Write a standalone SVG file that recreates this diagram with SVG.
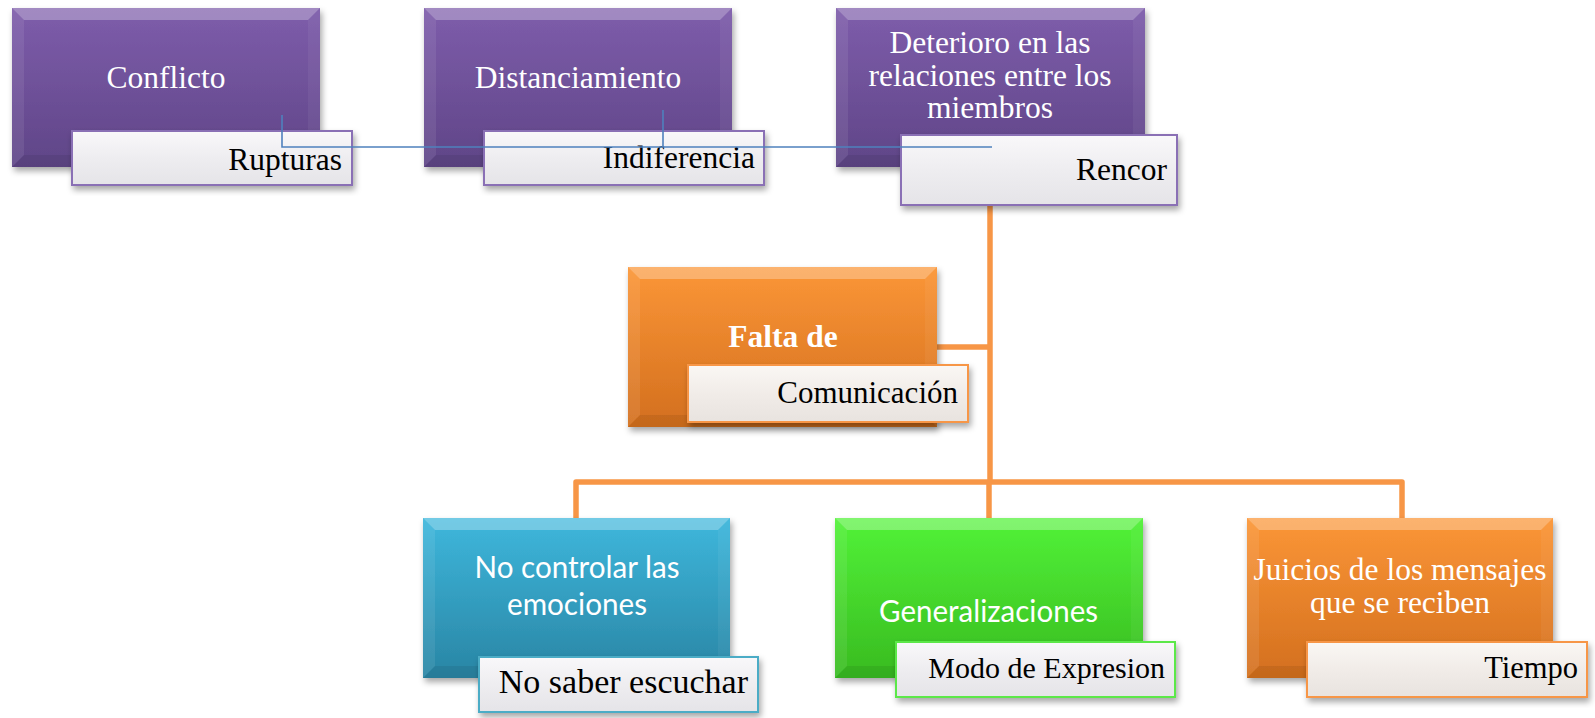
<svg xmlns="http://www.w3.org/2000/svg" width="1595" height="718" viewBox="0 0 1595 718">
<defs>
<style>
.ms{font-family:"Liberation Serif","Times New Roman",serif;font-size:31.5px;fill:#ffffff;text-anchor:middle}
.msb{font-family:"Liberation Serif","Times New Roman",serif;font-size:31.5px;font-weight:bold;fill:#ffffff;text-anchor:middle}
.sans{font-family:Lato,"Liberation Sans",sans-serif;font-size:31px;fill:#ffffff;text-anchor:middle}
.sub{font-family:"Liberation Serif","Times New Roman",serif;font-size:31.5px;fill:#000000;text-anchor:end}
.bt{fill:#ffffff;fill-opacity:0.28}
.bl{fill:#ffffff;fill-opacity:0.08}
.br{fill:#ffffff;fill-opacity:0.05}
.bb{fill:#000000;fill-opacity:0.07}
.conO{fill:none;stroke:#F79646;stroke-width:5.5;stroke-linejoin:round}
.conB{fill:none;stroke:#4F81BD;stroke-width:1.6}
</style>
<linearGradient id="gP" x1="0" y1="0" x2="0" y2="1"><stop offset="0" stop-color="#7E5DAB"/><stop offset="1" stop-color="#5F4587"/></linearGradient>
<linearGradient id="gO" x1="0" y1="0" x2="0" y2="1"><stop offset="0" stop-color="#FB9637"/><stop offset="1" stop-color="#D36F1E"/></linearGradient>
<linearGradient id="gB" x1="0" y1="0" x2="0" y2="1"><stop offset="0" stop-color="#3EB7DC"/><stop offset="1" stop-color="#2985A4"/></linearGradient>
<linearGradient id="gG" x1="0" y1="0" x2="0" y2="1"><stop offset="0" stop-color="#52F238"/><stop offset="1" stop-color="#38BB20"/></linearGradient>
<linearGradient id="gS" x1="0" y1="0" x2="0" y2="1"><stop offset="0" stop-color="#F9F8FA"/><stop offset="0.5" stop-color="#EEEDF0"/><stop offset="1" stop-color="#E5E4E8"/></linearGradient>
<linearGradient id="gSO" x1="0" y1="0" x2="0" y2="1"><stop offset="0" stop-color="#FAF7F4"/><stop offset="0.5" stop-color="#F1ECE8"/><stop offset="1" stop-color="#E8E3DF"/></linearGradient>
<filter id="sh" x="-10%" y="-10%" width="120%" height="130%"><feDropShadow dx="2" dy="4" stdDeviation="3" flood-color="#000" flood-opacity="0.35"/></filter>
</defs>
<rect width="1595" height="718" fill="#ffffff"/>

<g id="connectors">
<path class="conO" d="M990,205 V482"/>
<path class="conO" d="M937,347 H990"/>
<path class="conO" d="M576,518 V482 H1402 V518"/>
<path class="conO" d="M989,482 V518"/>
</g>

<g id="node-conflicto">
<rect x="12" y="8" width="308" height="159" fill="url(#gP)" filter="url(#sh)"/>
<polygon class="bt" points="12,8 320,8 308,20 24,20"/><polygon class="bl" points="12,8 24,20 24,155 12,167"/><polygon class="br" points="320,8 320,167 308,155 308,20"/><polygon class="bb" points="12,167 320,167 308,155 24,155"/>
<text class="ms" x="166" y="88">Conflicto</text>
<rect x="72" y="131" width="280" height="54" fill="url(#gS)" stroke="#8A6FB5" stroke-width="2" filter="url(#sh)"/>
<text class="sub" x="342" y="170">Rupturas</text>
</g>

<g id="node-distanciamiento">
<rect x="424" y="8" width="308" height="159" fill="url(#gP)" filter="url(#sh)"/>
<polygon class="bt" points="424,8 732,8 720,20 436,20"/><polygon class="bl" points="424,8 436,20 436,155 424,167"/><polygon class="br" points="732,8 732,167 720,155 720,20"/><polygon class="bb" points="424,167 732,167 720,155 436,155"/>
<text class="ms" x="578" y="88">Distanciamiento</text>
<rect x="484" y="131" width="280" height="54" fill="url(#gS)" stroke="#8A6FB5" stroke-width="2" filter="url(#sh)"/>
<text class="sub" x="755" y="168">Indiferencia</text>
</g>

<g id="node-deterioro">
<rect x="836" y="8" width="309" height="159" fill="url(#gP)" filter="url(#sh)"/>
<polygon class="bt" points="836,8 1145,8 1133,20 848,20"/><polygon class="bl" points="836,8 848,20 848,155 836,167"/><polygon class="br" points="1145,8 1145,167 1133,155 1133,20"/><polygon class="bb" points="836,167 1145,167 1133,155 848,155"/>
<text class="ms" x="990" y="53">Deterioro en las</text>
<text class="ms" x="990" y="86">relaciones entre los</text>
<text class="ms" x="990" y="118">miembros</text>
<rect x="901" y="135" width="276" height="70" fill="url(#gS)" stroke="#8A6FB5" stroke-width="2" filter="url(#sh)"/>
<text class="sub" x="1167" y="180">Rencor</text>
</g>

<g id="node-falta">
<rect x="628" y="267" width="309" height="160" fill="url(#gO)" filter="url(#sh)"/>
<polygon class="bt" points="628,267 937,267 925,279 640,279"/><polygon class="bl" points="628,267 640,279 640,415 628,427"/><polygon class="br" points="937,267 937,427 925,415 925,279"/><polygon class="bb" points="628,427 937,427 925,415 640,415"/>
<text class="msb" x="783" y="347">Falta de</text>
<rect x="688" y="365" width="280" height="57" fill="url(#gSO)" stroke="#F79646" stroke-width="2" filter="url(#sh)"/>
<text class="sub" x="958" y="403" style="font-size:31px">Comunicación</text>
</g>

<g id="node-emociones">
<rect x="423" y="518" width="307" height="160" fill="url(#gB)" filter="url(#sh)"/>
<polygon class="bt" points="423,518 730,518 718,530 435,530"/><polygon class="bl" points="423,518 435,530 435,666 423,678"/><polygon class="br" points="730,518 730,678 718,666 718,530"/><polygon class="bb" points="423,678 730,678 718,666 435,666"/>
<text class="sans" x="577" y="578" textLength="205" lengthAdjust="spacingAndGlyphs">No controlar las</text>
<text class="sans" x="577" y="615" textLength="140" lengthAdjust="spacingAndGlyphs">emociones</text>
<rect x="479" y="657" width="279" height="55" fill="url(#gS)" stroke="#4BACC6" stroke-width="2" filter="url(#sh)"/>
<text class="sub" x="748" y="693" style="font-size:34px">No saber escuchar</text>
</g>

<g id="node-generalizaciones">
<rect x="835" y="518" width="308" height="160" fill="url(#gG)" filter="url(#sh)"/>
<polygon class="bt" points="835,518 1143,518 1131,530 847,530"/><polygon class="bl" points="835,518 847,530 847,666 835,678"/><polygon class="br" points="1143,518 1143,678 1131,666 1131,530"/><polygon class="bb" points="835,678 1143,678 1131,666 847,666"/>
<text class="sans" x="988.5" y="622" textLength="219" lengthAdjust="spacingAndGlyphs">Generalizaciones</text>
<rect x="896" y="642" width="279" height="55" fill="url(#gS)" stroke="#5BE848" stroke-width="2" filter="url(#sh)"/>
<text class="sub" x="1165" y="678" style="font-size:30px">Modo de Expresion</text>
</g>

<g id="node-juicios">
<rect x="1247" y="518" width="306" height="160" fill="url(#gO)" filter="url(#sh)"/>
<polygon class="bt" points="1247,518 1553,518 1541,530 1259,530"/><polygon class="bl" points="1247,518 1259,530 1259,666 1247,678"/><polygon class="br" points="1553,518 1553,678 1541,666 1541,530"/><polygon class="bb" points="1247,678 1553,678 1541,666 1259,666"/>
<text class="ms" x="1400" y="580">Juicios de los mensajes</text>
<text class="ms" x="1400" y="613">que se reciben</text>
<rect x="1307" y="642" width="280" height="55" fill="url(#gSO)" stroke="#F79646" stroke-width="2" filter="url(#sh)"/>
<text class="sub" x="1578" y="678" style="font-size:30.5px">Tiempo</text>
</g>

<g id="connectors-overlay">
<path class="conB" d="M282,115 V147 H992"/>
<path class="conB" d="M663,110 V147"/>
</g>
</svg>
